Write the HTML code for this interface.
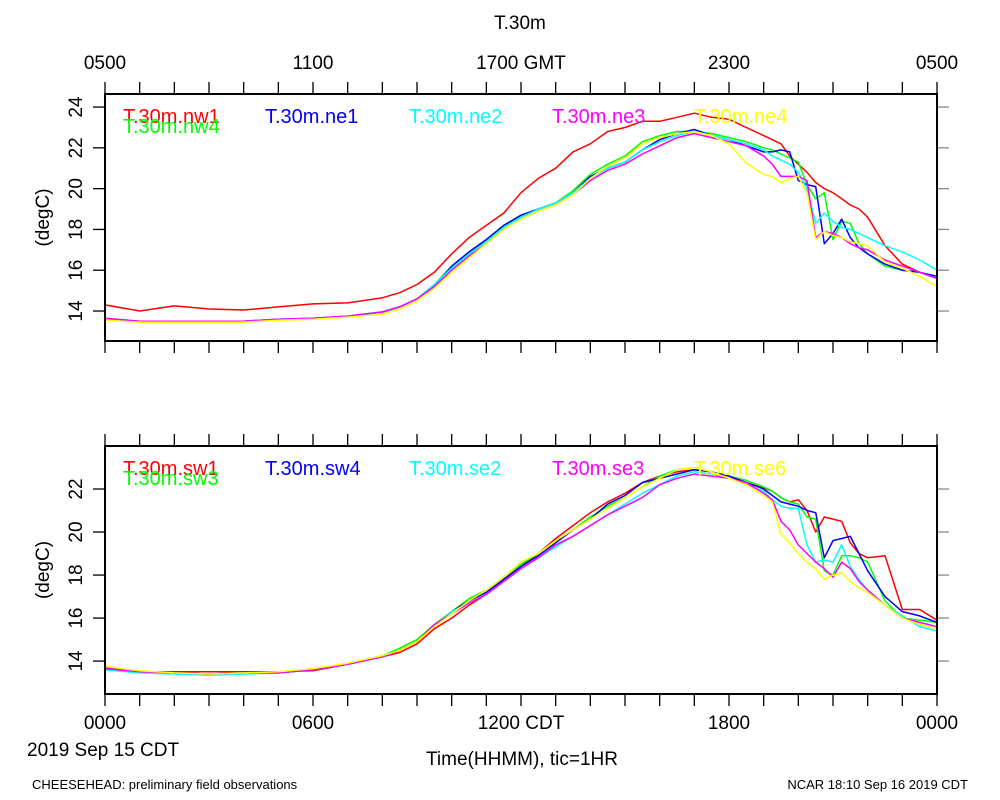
<!DOCTYPE html>
<html><head><meta charset="utf-8"><style>
html,body{margin:0;padding:0;background:#fff;}
svg{display:block;font-family:"Liberation Sans",sans-serif;}
</style></head><body>
<svg id="chart" width="1000" height="800" viewBox="0 0 1000 800" xmlns="http://www.w3.org/2000/svg">
<text x="520" y="29" font-size="19" text-anchor="middle">T.30m</text>
<text x="27" y="756" font-size="19">2019 Sep 15 CDT</text>
<text x="522" y="765" font-size="19" text-anchor="middle">Time(HHMM), tic=1HR</text>
<text x="32" y="789" font-size="13">CHEESEHEAD: preliminary field observations</text>
<text x="968" y="789" font-size="13" text-anchor="end">NCAR 18:10 Sep 16 2019 CDT</text>
</svg>
<script>
const hours=[0,1,2,3,4,5,6,7,8,8.5,9,9.5,10,10.5,11,11.5,12,12.5,13,13.5,14,14.5,15,15.5,16,16.5,17,17.5,18,18.5,19,19.25,19.5,19.75,20,20.25,20.5,20.75,21,21.25,21.5,21.75,22,22.5,23,23.5,24];
const topTopLabels=["0500","1100","1700 GMT","2300","0500"];
const bottomLabels=["0000","0600","1200 CDT","1800","0000"];
const topYTicks=[14,16,18,20,22,24];
const botYTicks=[14,16,18,20,22];
const nw1=[14.3,14.0,14.25,14.1,14.05,14.2,14.35,14.4,14.65,14.9,15.3,15.9,16.8,17.6,18.2,18.8,19.8,20.5,21.0,21.8,22.2,22.8,23.0,23.3,23.3,23.5,23.7,23.5,23.4,23.0,22.6,22.4,22.2,21.6,21.2,20.8,20.3,20.0,19.8,19.5,19.2,19.0,18.6,17.2,16.3,15.9,15.6];
const nw4=[13.6,13.5,13.5,13.5,13.5,13.6,13.65,13.75,13.95,14.2,14.6,15.3,16.2,16.8,17.5,18.2,18.6,19.0,19.3,19.9,20.7,21.2,21.6,22.3,22.6,22.8,22.8,22.7,22.5,22.3,22.0,21.9,21.7,21.5,21.3,20.2,19.5,19.8,17.5,18.4,18.3,17.3,16.8,16.2,16.0,15.9,15.6];
const ne1=[13.6,13.5,13.5,13.5,13.5,13.6,13.65,13.75,13.95,14.2,14.6,15.2,16.2,16.9,17.5,18.2,18.7,19.0,19.3,19.8,20.6,21.0,21.3,21.9,22.4,22.7,22.9,22.6,22.4,22.1,21.8,21.8,21.9,21.8,20.4,20.2,20.1,17.3,17.8,18.5,17.6,17.1,16.8,16.3,16.0,15.9,15.7];
const ne2=[13.6,13.5,13.5,13.45,13.5,13.6,13.65,13.75,13.9,14.2,14.6,15.3,16.1,16.8,17.4,18.1,18.6,19.0,19.3,19.8,20.5,21.0,21.3,21.9,22.3,22.6,22.8,22.6,22.4,22.2,21.9,21.6,21.4,21.2,20.8,20.0,18.3,18.8,18.4,18.1,18.0,17.8,17.6,17.2,16.9,16.5,16.0];
const ne3=[13.65,13.5,13.5,13.5,13.5,13.6,13.65,13.75,13.95,14.2,14.6,15.2,16.0,16.7,17.3,18.0,18.5,18.9,19.2,19.7,20.4,20.9,21.2,21.7,22.1,22.5,22.7,22.5,22.3,22.1,21.6,21.2,20.6,20.6,20.6,20.4,17.6,17.9,17.8,17.6,17.3,17.1,17.0,16.5,16.2,15.9,15.6];
const ne4=[13.55,13.45,13.45,13.45,13.45,13.55,13.6,13.7,13.85,14.1,14.5,15.1,15.9,16.6,17.3,18.0,18.5,18.9,19.2,19.7,20.5,21.1,21.5,22.2,22.5,22.7,22.8,22.6,22.2,21.25,20.7,20.6,20.3,20.5,20.6,19.8,17.5,17.9,17.7,17.6,17.4,17.3,17.2,16.4,16.1,15.7,15.2];
const sw1=[13.7,13.5,13.5,13.5,13.5,13.5,13.55,13.85,14.2,14.4,14.8,15.5,16.0,16.6,17.1,17.8,18.4,19.0,19.7,20.3,20.9,21.4,21.8,22.3,22.6,22.8,22.9,22.8,22.6,22.3,22.05,21.9,21.6,21.4,21.5,21.0,20.0,20.7,20.6,20.5,19.5,19.0,18.8,18.9,16.4,16.4,15.9];
const sw3=[13.65,13.5,13.45,13.4,13.45,13.45,13.6,13.9,14.25,14.6,15.0,15.7,16.3,16.9,17.3,17.9,18.5,19.0,19.6,20.1,20.7,21.2,21.6,22.1,22.6,22.9,23.0,22.8,22.6,22.4,22.1,21.9,21.6,21.4,21.3,20.7,20.6,18.2,18.0,18.9,18.9,18.8,18.6,16.8,16.0,15.9,15.8];
const sw4=[13.65,13.5,13.45,13.4,13.45,13.45,13.6,13.85,14.2,14.5,14.9,15.6,16.3,16.8,17.2,17.8,18.4,18.9,19.5,20.1,20.6,21.3,21.7,22.3,22.5,22.7,22.9,22.8,22.6,22.3,22.0,21.7,21.4,21.3,21.2,21.0,20.9,18.8,19.6,19.7,19.8,19.0,18.2,17.0,16.3,16.1,15.8];
const se2=[13.6,13.45,13.4,13.35,13.4,13.45,13.6,13.85,14.2,14.5,14.9,15.6,16.3,16.7,17.1,17.7,18.3,18.8,19.3,19.8,20.3,20.8,21.3,21.8,22.2,22.6,22.8,22.7,22.5,22.2,21.9,21.5,21.2,21.1,21.1,19.4,18.6,18.7,18.6,19.4,18.4,17.8,17.3,16.6,16.1,15.6,15.4];
const se3=[13.65,13.5,13.45,13.4,13.45,13.45,13.6,13.85,14.2,14.5,14.9,15.7,16.2,16.7,17.1,17.7,18.3,18.8,19.4,19.8,20.3,20.8,21.2,21.6,22.2,22.5,22.7,22.6,22.5,22.3,21.8,21.5,20.5,20.1,19.4,19.0,18.6,18.3,17.9,18.6,18.3,17.7,17.3,16.6,16.0,15.8,15.6];
const se6=[13.75,13.55,13.45,13.4,13.45,13.5,13.65,13.9,14.25,14.5,14.9,15.6,16.2,16.8,17.3,17.9,18.6,19.0,19.6,20.1,20.6,21.1,21.6,22.1,22.5,22.9,23.0,22.8,22.5,22.2,21.7,21.4,19.9,19.5,19.0,18.6,18.3,17.8,18.0,18.1,17.7,17.4,17.2,16.6,16.0,15.7,15.5];

const svg=document.getElementById('chart');
const NS='http://www.w3.org/2000/svg';
function mk(tag,attrs,parent){const e=document.createElementNS(NS,tag);for(const k in attrs)e.setAttribute(k,attrs[k]);(parent||svg).appendChild(e);return e;}

function panel(p){
  const g=mk('g',{});
  
  
  const X=h=>p.x0+(h/24)*(p.x1-p.x0);
  const Y=v=>p.y1-(v-p.vmin)/(p.vmax-p.vmin)*(p.y1-p.y0);
  p.yticks.forEach(v=>{
    const y=Y(v);
    const l=mk('line',{x1:p.x0-12,x2:p.x0,y1:y,y2:y,stroke:'#000','stroke-width':1.3},g);
    
    
    mk('line',{x1:p.x1,x2:p.x1+12,y1:y,y2:y,stroke:'#888','stroke-width':1.3},g);
    const t=mk('text',{x:0,y:0,'font-size':19,'text-anchor':'middle',transform:`translate(${p.x0-23},${y}) rotate(-90)`},g);
    
    
    t.textContent=v;
  });
  for(let h=0;h<=24;h++){
    const x=X(h);
    const a=mk('line',{x1:x,x2:x,y1:p.y0-12,y2:p.y0,stroke:'#000','stroke-width':1.3},g);
    
    
    mk('line',{x1:x,x2:x,y1:p.y1,y2:p.y1+12,stroke:'#000','stroke-width':1.3},g);
  }
  if(p.topLabels){p.topLabels.forEach((s,i)=>{const t=mk('text',{x:X(i*6),y:p.y0-25,'font-size':19,'text-anchor':'middle'},g);
    t.textContent=s;});}
  if(p.botLabels){p.botLabels.forEach((s,i)=>{const t=mk('text',{x:X(i*6),y:p.y1+35,'font-size':19,'text-anchor':'middle'},g);
    t.textContent=s;});}
  const yt=mk('text',{x:0,y:0,'font-size':19,'text-anchor':'middle',transform:`translate(49,${(p.y0+p.y1)/2}) rotate(-90)`},g);
  
  
  yt.textContent='(degC)';
  p.series.forEach(s=>{
    const d=hours.map((h,i)=>(i?'L':'M')+X(h).toFixed(1)+','+Y(s.v[i]).toFixed(1)).join('');
    const path=mk('path',{d:d,fill:'none',stroke:s.c,'stroke-width':1.5,'stroke-linejoin':'round'},g);
    
    
  });
  p.series.forEach((s,i)=>{
    const lx=[123,123,265,409,552,694][i], ly=i===1?p.y0+39:p.y0+29;
    const t=mk('text',{x:lx,y:ly,'font-size':20,fill:s.c},g);
    
    
    t.textContent='T.30m.'+s.n;
  });
  const f=mk('rect',{x:p.x0,y:p.y0,width:p.x1-p.x0,height:p.y1-p.y0,fill:'none',stroke:'#000','stroke-width':2},g);
  
  
}
panel({name:'top-panel',x0:105,x1:937,y0:94,y1:341,vmin:12.53,vmax:24.64,yticks:topYTicks,topLabels:topTopLabels,
  series:[{n:'nw1',c:'#ff0000',v:nw1},{n:'nw4',c:'#00ff00',v:nw4},{n:'ne1',c:'#0000ff',v:ne1},{n:'ne2',c:'#00ffff',v:ne2},{n:'ne3',c:'#ff00ff',v:ne3},{n:'ne4',c:'#ffff00',v:ne4}]});
panel({name:'bottom-panel',x0:105,x1:937,y0:446,y1:694,vmin:12.47,vmax:24.0,yticks:botYTicks,botLabels:bottomLabels,
  series:[{n:'sw1',c:'#ff0000',v:sw1},{n:'sw3',c:'#00ff00',v:sw3},{n:'sw4',c:'#0000ff',v:sw4},{n:'se2',c:'#00ffff',v:se2},{n:'se3',c:'#ff00ff',v:se3},{n:'se6',c:'#ffff00',v:se6}]});
</script>
</body></html>
